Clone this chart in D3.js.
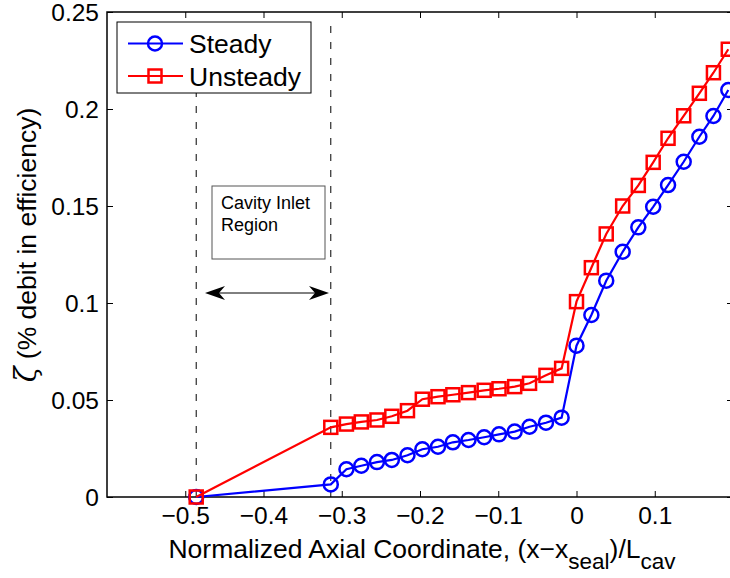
<!DOCTYPE html>
<html>
<head>
<meta charset="utf-8">
<script src="https://cdn.jsdelivr.net/npm/d3@7"></script>
<style>
  html, body { margin: 0; padding: 0; background: #fff; }
  svg text { font-family: "Liberation Sans", Arial, Helvetica, sans-serif; fill: #000; }
</style>
</head>
<body>
<svg id="chart" width="730" height="578"></svg>
<script>
// Axial stations (normalized coordinate) shared by both series
const stations = [-0.486, -0.314, -0.294, -0.275, -0.255, -0.236, -0.216, -0.197, -0.177,
  -0.158, -0.138, -0.118, -0.099, -0.079, -0.060, -0.039, -0.019, 0.0, 0.019, 0.038,
  0.059, 0.079, 0.098, 0.117, 0.137, 0.157, 0.175, 0.194];

// Efficiency debit, steady computation
const steadyValues = [0, 0.0065, 0.0143, 0.0161, 0.0180, 0.0191, 0.0215, 0.0246, 0.0259,
  0.0282, 0.0294, 0.0308, 0.0323, 0.0337, 0.0362, 0.0383, 0.0409, 0.0780, 0.0938, 0.1115,
  0.1264, 0.1390, 0.1496, 0.1608, 0.1728, 0.1857, 0.1964, 0.2098];

// Efficiency debit, unsteady computation
const unsteadyValues = [0, 0.0359, 0.0376, 0.0387, 0.0397, 0.0416, 0.0445, 0.0504, 0.0517,
  0.0527, 0.0538, 0.0550, 0.0558, 0.0569, 0.0586, 0.0627, 0.0663, 0.1007, 0.1182, 0.1356,
  0.1500, 0.1606, 0.1725, 0.1849, 0.1965, 0.2081, 0.2187, 0.2308];

const seriesNames = ["Steady", "Unsteady"];

const xTicks = [-0.5, -0.4, -0.3, -0.2, -0.1, 0, 0.1];
const xTickLabels = ["\u22120.5", "\u22120.4", "\u22120.3", "\u22120.2", "\u22120.1", "0", "0.1"];
const yTicks = [0, 0.05, 0.1, 0.15, 0.2, 0.25];
const yTickLabels = ["0", "0.05", "0.1", "0.15", "0.2", "0.25"];

// Bounds of the cavity inlet region
const inletBounds = [-0.486, -0.314];

const svg = d3.select("#chart");
const L = 107, R = 733, T = 12, B = 497;

const x = d3.scaleLinear().domain([-0.6, 0.2]).range([L, R]);
const y = d3.scaleLinear().domain([0, 0.25]).range([B, T]);

const tickFont = 24.5;

// Clip to the axes box
svg.append("defs").append("clipPath").attr("id", "plotClip")
  .append("rect").attr("x", L).attr("y", T).attr("width", R - L).attr("height", B - T);

// Axes (ticks pointing inward on all four sides)
const xAxisBottom = d3.axisBottom(x).tickValues(xTicks)
  .tickFormat((d, i) => xTickLabels[i]).tickSizeInner(-6).tickSizeOuter(0).tickPadding(10);
const xAxisTop = d3.axisTop(x).tickValues(xTicks).tickFormat("").tickSizeInner(-6).tickSizeOuter(0);
const yAxisLeft = d3.axisLeft(y).tickValues(yTicks)
  .tickFormat((d, i) => yTickLabels[i]).tickSizeInner(-6).tickSizeOuter(0).tickPadding(8);
const yAxisRight = d3.axisRight(y).tickValues(yTicks).tickFormat("").tickSizeInner(-6).tickSizeOuter(0);

const gB = svg.append("g").attr("transform", `translate(0,${B})`).call(xAxisBottom);
const gT = svg.append("g").attr("transform", `translate(0,${T})`).call(xAxisTop);
const gL = svg.append("g").attr("transform", `translate(${L},0)`).call(yAxisLeft);
const gR = svg.append("g").attr("transform", `translate(${R},0)`).call(yAxisRight);

[gB, gT, gL, gR].forEach(g => {
  g.select(".domain").remove();
  g.selectAll(".tick line").attr("stroke", "#000").attr("stroke-width", 1);
  g.selectAll(".tick text").attr("font-size", tickFont).attr("fill", "#000")
    .attr("font-family", "'Liberation Sans', Arial, sans-serif");
});
gB.selectAll(".tick text").attr("dy", "0.71em");
gL.selectAll(".tick text").attr("dy", "0.36em");

// Axes frame
svg.append("rect").attr("x", L).attr("y", T).attr("width", R - L).attr("height", B - T)
  .attr("fill", "none").attr("stroke", "#000").attr("stroke-width", 1.5);

const plot = svg.append("g").attr("clip-path", "url(#plotClip)");

// Dashed bounds of the inlet region
plot.selectAll("line.bound").data(inletBounds).join("line")
  .attr("class", "bound")
  .attr("x1", d => x(d)).attr("x2", d => x(d))
  .attr("y1", y(0)).attr("y2", y(0.2443))
  .attr("stroke", "#000").attr("stroke-width", 1)
  .attr("stroke-dasharray", "7,9");

const steady = stations.map((s, i) => ({ x: s, y: steadyValues[i] }));
const unsteady = stations.map((s, i) => ({ x: s, y: unsteadyValues[i] }));

const line = d3.line().x(d => x(d.x)).y(d => y(d.y));

const lw = 2.2, rad = 7, sq = 13;

// Steady series: blue line with circles
const markerG = svg.append("g");
markerG.append("path").datum(steady).attr("d", line)
  .attr("fill", "none").attr("stroke", "#0000ff").attr("stroke-width", lw);
markerG.selectAll("circle.st").data(steady).join("circle")
  .attr("class", "st").attr("cx", d => x(d.x)).attr("cy", d => y(d.y)).attr("r", rad)
  .attr("fill", "none").attr("stroke", "#0000ff").attr("stroke-width", lw + 0.3);

// Unsteady series: red line with squares
markerG.append("path").datum(unsteady).attr("d", line)
  .attr("fill", "none").attr("stroke", "#ff0000").attr("stroke-width", lw);
markerG.selectAll("rect.us").data(unsteady).join("rect")
  .attr("class", "us").attr("x", d => x(d.x) - sq / 2).attr("y", d => y(d.y) - sq / 2)
  .attr("width", sq).attr("height", sq)
  .attr("fill", "none").attr("stroke", "#ff0000").attr("stroke-width", lw + 0.3);

// Annotation: text box and double arrow across the inlet region
const note = svg.append("g");
note.append("rect").attr("x", 212).attr("y", 186).attr("width", 113).attr("height", 73)
  .attr("fill", "#fff").attr("stroke", "#555").attr("stroke-width", 1);
note.append("text").attr("x", 221).attr("y", 209).attr("font-size", 18).text("Cavity Inlet");
note.append("text").attr("x", 221).attr("y", 231).attr("font-size", 18).text("Region");

const arrowY = 293, ax1 = 205, ax2 = 329;
note.append("line").attr("x1", ax1 + 8).attr("x2", ax2 - 8).attr("y1", arrowY).attr("y2", arrowY)
  .attr("stroke", "#000").attr("stroke-width", 1);
const head = (tipX, dir) => {
  const l = 20, w = 7, back = 14;
  return `M${tipX},${arrowY} L${tipX + dir * l},${arrowY - w} L${tipX + dir * back},${arrowY} L${tipX + dir * l},${arrowY + w} Z`;
};
note.append("path").attr("d", head(ax1, 1)).attr("fill", "#000");
note.append("path").attr("d", head(ax2, -1)).attr("fill", "#000");

// Legend
const lg = svg.append("g");
lg.append("rect").attr("x", 117).attr("y", 22).attr("width", 194).attr("height", 71)
  .attr("fill", "#fff").attr("stroke", "#000").attr("stroke-width", 1);
const legendRows = [
  { name: seriesNames[0], color: "#0000ff", shape: "circle", y: 43.5 },
  { name: seriesNames[1], color: "#ff0000", shape: "square", y: 76 }
];
legendRows.forEach(r => {
  lg.append("line").attr("x1", 128).attr("x2", 183).attr("y1", r.y).attr("y2", r.y)
    .attr("stroke", r.color).attr("stroke-width", lw);
  if (r.shape === "circle") {
    lg.append("circle").attr("cx", 155).attr("cy", r.y).attr("r", rad)
      .attr("fill", "none").attr("stroke", r.color).attr("stroke-width", lw + 0.3);
  } else {
    lg.append("rect").attr("x", 155 - sq / 2).attr("y", r.y - sq / 2).attr("width", sq).attr("height", sq)
      .attr("fill", "none").attr("stroke", r.color).attr("stroke-width", lw + 0.3);
  }
  lg.append("text").attr("x", 189).attr("y", r.y).attr("dy", "0.36em")
    .attr("font-size", 26.5).text(r.name);
});

// Axis titles
const xl = svg.append("text").attr("x", 422).attr("y", 558).attr("text-anchor", "middle")
  .attr("font-size", 26.5);
xl.append("tspan").text("Normalized Axial Coordinate, (x\u2212x");
xl.append("tspan").attr("dy", 11).attr("font-size", 22.5).text("seal");
xl.append("tspan").attr("dy", -11).text(")/L");
xl.append("tspan").attr("dy", 11).attr("font-size", 22.5).text("cav");

const yl = svg.append("text").attr("transform", "translate(36,245) rotate(-90)")
  .attr("text-anchor", "middle").attr("font-size", 26.5);
yl.append("tspan").attr("font-size", 29).attr("font-family", "'DejaVu Serif', serif")
  .attr("font-style", "italic").text("\u03b6");
yl.append("tspan").text(" (% debit in efficiency)");
</script>
</body>
</html>
